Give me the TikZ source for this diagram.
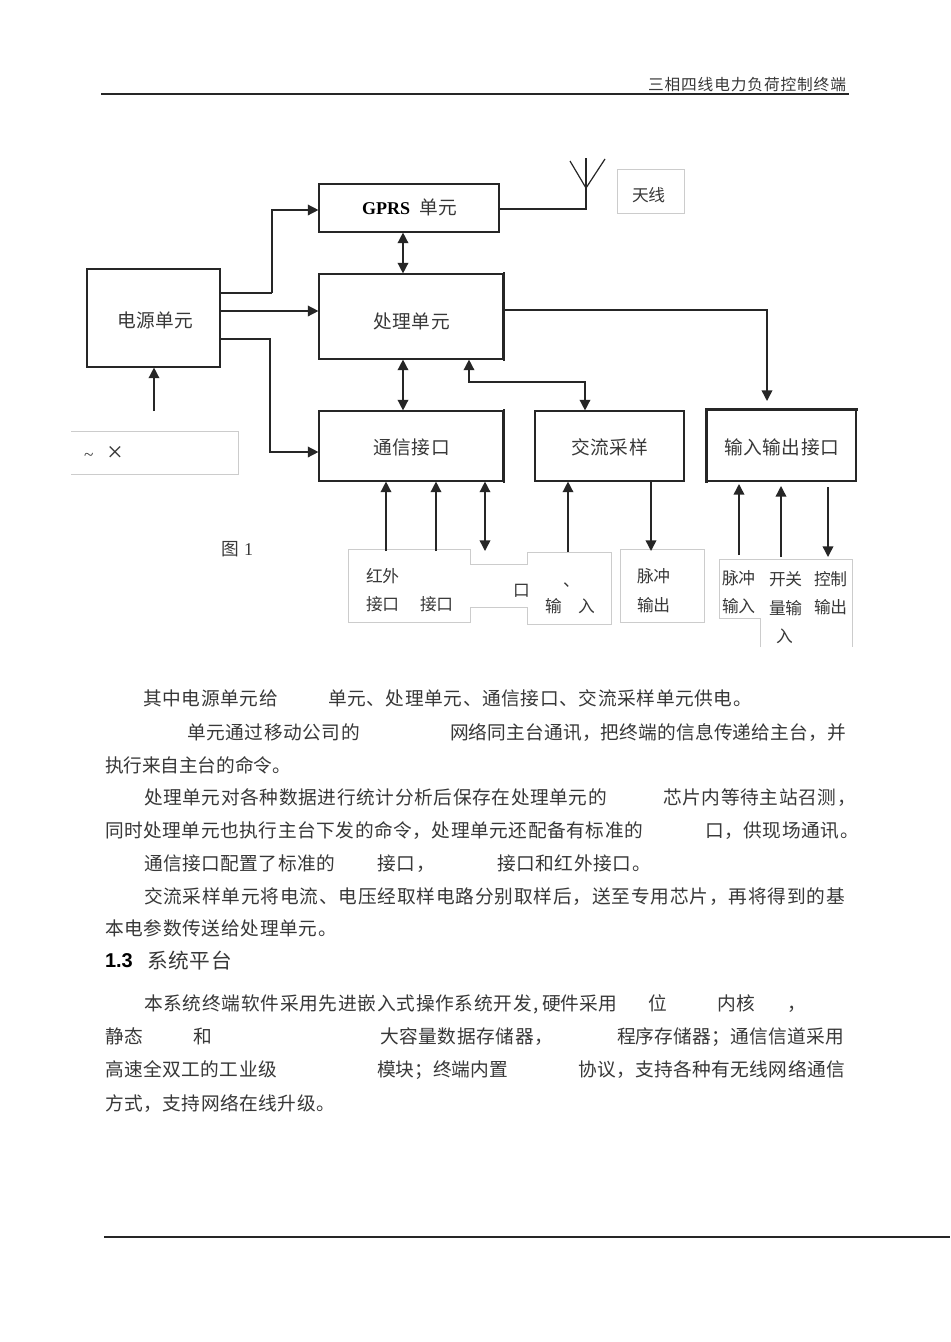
\documentclass[tikz,border=0pt]{standalone}
\usepackage{fontspec}
\usetikzlibrary{arrows.meta}
\setmainfont{Liberation Serif}
\newfontfamily\cjk{Noto Sans CJK SC}
\newfontfamily\hel{Liberation Sans}
\definecolor{ink}{gray}{0.15}
\definecolor{txt}{gray}{0.22}
\definecolor{pale}{gray}{0.8}
\newcount\tc
\def\sprd#1{\ifx#1\relax\unskip\else#1\hss\expandafter\sprd\fi}
% text piece: size(px), x0, x1, y(centre), text
\newcommand\tseg[5]{%
  \global\advance\tc by 1
  \pgfmathsetlengthmacro\segw{(#3-#2)*0.75}%
  \pgfmathsetlengthmacro\segs{(#1+0.7)*0.75}%
  \node[seg,yshift=-1.3pt,text height=0.8*\segs,text depth=0.2*\segs] (t\the\tc) at (#2,#4)
    {\fontsize{\segs}{\segs}\selectfont\cjk\hbox to \segw{\sprd#5\relax}};}
\tikzset{
  x=0.75pt,y=-0.75pt,
  seg/.style={anchor=west,inner sep=0pt,outer sep=0pt,text=txt},
  bx/.style={draw=ink,line width=0.85pt,inner sep=0pt,fill=white},
  edge/.style={draw=ink,line width=1.6pt,line cap=rect},
  wire/.style={draw=ink,line width=1.1pt},
  ar/.style={wire,-{Triangle[length=8pt,width=8pt]}},
  arb/.style={wire,{Triangle[length=8pt,width=8pt]}-{Triangle[length=8pt,width=8pt]}},
  pbox/.style={draw=pale,line width=0.6pt},
  rule/.style={draw=ink,line width=1.2pt},
}
\begin{document}
\begin{tikzpicture}
\useasboundingbox (0,0) rectangle (950,1342);
\fill[white] (0,0) rectangle (950,1342);

% header and footer
\tseg{15}{648}{846}{84}{三相四线电力负荷控制终端}
\coordinate (hl) at (101,94);
\coordinate (hr) at (849,94);
\draw[rule] (hl) -- (hr);
\coordinate (fl) at (104,1237);
\coordinate (fr) at (950,1237);
\draw[rule,line width=1.6pt] (fl) -- (fr);

% pale label frames
\node[pbox,minimum width=67*0.75pt,minimum height=44*0.75pt,inner sep=0pt] (ant) at (650.5,191) {};
\draw[pbox] (71,431) -- (238,431) -- (238,474) -- (71,474);
\draw[pbox] (348,549) -- (470,549) -- (470,564) -- (527,564) -- (527,552) -- (611,552) -- (611,624) -- (527,624) -- (527,607) -- (470,607) -- (470,622) -- (348,622) -- cycle;
\node[pbox,minimum width=84*0.75pt,minimum height=73*0.75pt,inner sep=0pt] (pout) at (662,585.5) {};
\draw[pbox] (760,647) -- (760,618) -- (719,618) -- (719,559) -- (852,559) -- (852,647);

% boxes
\node[bx,minimum width=133*0.75pt,minimum height=98*0.75pt] (pw) at (153.5,318) {};
\node[bx,minimum width=180*0.75pt,minimum height=48*0.75pt] (gp) at (409,208) {};
\node[bx,minimum width=184*0.75pt,minimum height=85*0.75pt] (pr) at (411,316.5) {};
\node[bx,minimum width=184*0.75pt,minimum height=70*0.75pt] (co) at (411,446) {};
\node[bx,minimum width=149*0.75pt,minimum height=70*0.75pt] (ac) at (609.5,446) {};
\node[bx,minimum width=149*0.75pt,minimum height=71*0.75pt] (io) at (781.5,445.5) {};
\draw[edge] (pr.north east) -- (pr.south east);
\draw[edge] (co.north east) -- (co.south east);
\draw[edge] (io.north west) -- (io.north east);
\draw[edge] (io.north west) -- (io.south west);

% box texts
\tseg{18}{117}{193}{320}{电源单元}
\node[seg,yshift=-1pt,font=\fontsize{13.5pt}{13.5pt}\selectfont\bfseries,text=black] (gt) at (362,207) {GPRS};
\tseg{18}{419}{457}{207}{单元}
\tseg{18}{373}{450}{321}{处理单元}
\tseg{18}{373}{450}{447}{通信接口}
\tseg{18}{571}{648}{447}{交流采样}
\tseg{18}{724}{839}{447}{输入输出接口}
\tseg{16}{632}{665}{195}{天线}

% antenna
\coordinate (am) at (586,209);
\coordinate (ab) at (586,188);
\coordinate (at) at (586,158);
\coordinate (al) at (570,161);
\coordinate (ar) at (605,159);
\draw[wire,line width=1pt] (gp.east |- am) -- (am) -- (at);
\draw[wire,line width=0.9pt] (al) -- (ab) -- (ar);

% power feeds
\coordinate (p1) at (272,293);
\coordinate (p1b) at (272,210);
\draw[wire,line width=1.8pt] (pw.east |- p1) -- (p1);
\draw[ar] (p1) -- (p1b) -- (gp.west |- p1b);
\coordinate (p2) at (220,311);
\draw[ar] (p2) -- (pr.west |- p2);
\coordinate (p3) at (270,339);
\coordinate (p3b) at (270,452);
\draw[ar] (pw.east |- p3) -- (p3) -- (p3b) -- (co.west |- p3b);
\coordinate (src) at (154,411);
\draw[ar] (src) -- (pw.south -| src);

% internal buses
\coordinate (bx) at (403,250);
\draw[arb] (gp.south -| bx) -- (pr.north -| bx);
\draw[arb] (pr.south -| bx) -- (co.north -| bx);
\coordinate (ac1) at (469,382);
\coordinate (ac2) at (585,382);
\draw[arb] (pr.south -| ac1) -- (ac1) -- (ac2) -- (ac.north -| ac2);
\coordinate (io1) at (767,310);
\coordinate (io2) at (767,401);
\draw[ar] (pr.east |- io1) -- (io1) -- (io2);

% lower arrows
\coordinate (d1) at (386,551);
\coordinate (d2) at (436,551);
\coordinate (d3) at (485,551);
\coordinate (d4) at (568,552);
\coordinate (d5) at (651,551);
\coordinate (d6) at (739,555);
\coordinate (d7) at (781,557);
\coordinate (d8) at (828,557);
\coordinate (u6) at (739,484);
\coordinate (u7) at (781,486);
\coordinate (u8) at (828,487);
\draw[ar] (d1) -- (co.south -| d1);
\draw[ar] (d2) -- (co.south -| d2);
\draw[arb] (co.south -| d3) -- (d3);
\draw[ar] (d4) -- (ac.south -| d4);
\draw[ar] (ac.south -| d5) -- (d5);
\draw[ar] (d6) -- (u6);
\draw[ar] (d7) -- (u7);
\draw[ar] (u8) -- (d8);

% small labels
\node[seg,font=\fontsize{13pt}{13pt}\selectfont,text=txt] (tl) at (84,457) {\textasciitilde};
\node[seg,font=\fontsize{21pt}{21pt}\selectfont,text=txt] (tm) at (107,454) {×};
\tseg{17}{221}{238}{548}{图}
\node[seg,yshift=-1pt,font=\fontsize{13.5pt}{13.5pt}\selectfont,text=txt] (fg) at (244,548) {1};
\tseg{16}{366}{399}{576}{红外}
\tseg{16}{366}{399}{604}{接口}
\tseg{16}{420}{453}{604}{接口}
\tseg{16}{513}{529}{590}{口}
\tseg{16}{563}{579}{580}{、}
\tseg{16}{545}{561}{606}{输}
\tseg{16}{578}{594}{606}{入}
\tseg{16}{637}{670}{576}{脉冲}
\tseg{16}{637}{670}{605}{输出}
\tseg{16}{722}{755}{578}{脉冲}
\tseg{16}{722}{755}{606}{输入}
\tseg{16}{769}{802}{579}{开关}
\tseg{16}{769}{802}{608}{量输}
\tseg{16}{776}{792}{636}{入}
\tseg{16}{814}{847}{579}{控制}
\tseg{16}{814}{847}{607}{输出}

% body text
\tseg{18}{143}{278}{698}{其中电源单元给}
\tseg{18}{328}{752}{698}{单元、处理单元、通信接口、交流采样单元供电。}
\tseg{18}{187}{360}{732}{单元通过移动公司的}
\tseg{18}{450}{846}{732}{网络同主台通讯，把终端的信息传递给主台，并}
\tseg{18}{105}{291}{765}{执行来自主台的命令。}
\tseg{18}{144}{607}{797}{处理单元对各种数据进行统计分析后保存在处理单元的}
\tseg{18}{663}{856}{797}{芯片内等待主站召测，}
\tseg{18}{105}{643}{830}{同时处理单元也执行主台下发的命令，处理单元还配备有标准的}
\tseg{18}{705}{859}{830}{口，供现场通讯。}
\tseg{18}{144}{335}{863}{通信接口配置了标准的}
\tseg{18}{377}{435}{863}{接口，}
\tseg{18}{497}{651}{863}{接口和红外接口。}
\tseg{18}{144}{845}{896}{交流采样单元将电流、电压经取样电路分别取样后，送至专用芯片，再将得到的基}
\tseg{18}{105}{337}{928}{本电参数传送给处理单元。}
\node[seg,font=\hel\fontsize{15pt}{15pt}\selectfont\bfseries,text=black] (h1) at (105,961) {1.3};
\tseg{20}{147}{232}{961}{系统平台}
\tseg{18}{144}{532}{1003}{本系统终端软件采用先进嵌入式操作系统开发}
\tseg{18}{533}{542}{1003}{,}
\tseg{18}{542}{617}{1003}{硬件采用}
\tseg{18}{648}{667}{1003}{位}
\tseg{18}{717}{755}{1003}{内核}
\tseg{18}{787}{805}{1003}{，}
\tseg{18}{105}{143}{1036}{静态}
\tseg{18}{193}{212}{1036}{和}
\tseg{18}{380}{553}{1036}{大容量数据存储器，}
\tseg{18}{617}{844}{1036}{程序存储器；通信信道采用}
\tseg{18}{105}{277}{1069}{高速全双工的工业级}
\tseg{18}{377}{508}{1069}{模块；终端内置}
\tseg{18}{578}{845}{1069}{协议，支持各种有无线网络通信}
\tseg{18}{105}{335}{1103}{方式，支持网络在线升级。}
\end{tikzpicture}
\end{document}
